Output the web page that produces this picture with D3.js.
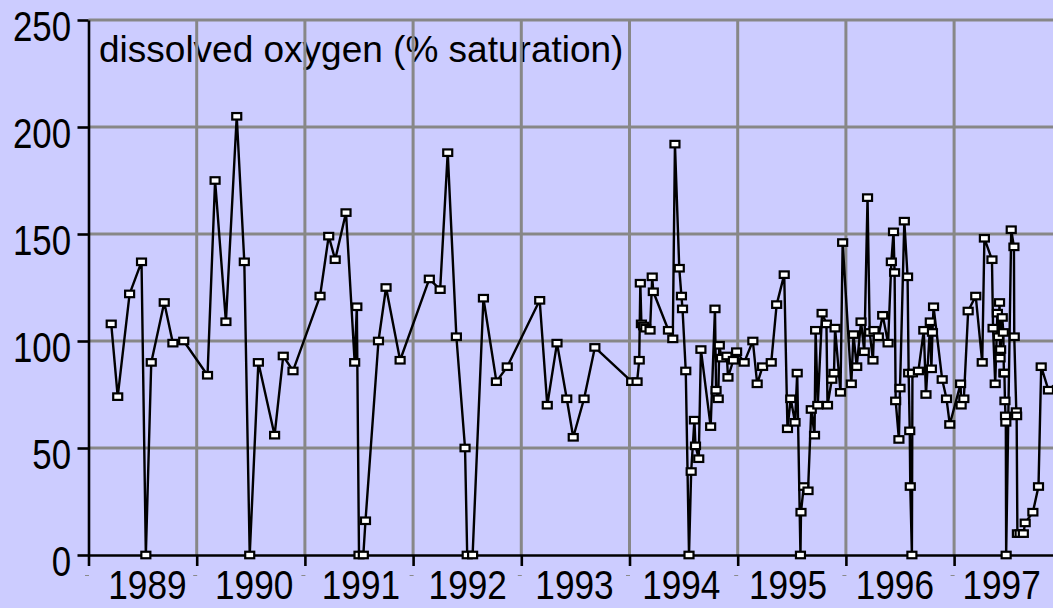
<!DOCTYPE html>
<html>
<head>
<meta charset="utf-8">
<script src="https://cdn.jsdelivr.net/npm/d3@7/dist/d3.min.js"></script>
<style>
	body { margin: 0; background: #ccccff; overflow: hidden; }
	svg { display: block; }
</style>
</head>
<body>
<div id="chart"></div>
<script>

// Sample times (decimal years) and dissolved oxygen readings
const sampleDates = [
	1989.21, 1989.27, 1989.38, 1989.49, 1989.53, 1989.58, 1989.70, 1989.78, 1989.88,
	1990.10, 1990.17, 1990.27, 1990.37, 1990.44, 1990.49, 1990.57, 1990.72, 1990.80, 1990.89,
	1991.14, 1991.22, 1991.28, 1991.38, 1991.46, 1991.48, 1991.50, 1991.54, 1991.56, 1991.68, 1991.75, 1991.88,
	1992.15, 1992.25, 1992.32, 1992.40, 1992.48, 1992.50, 1992.55, 1992.65, 1992.77, 1992.87,
	1993.17, 1993.24, 1993.33, 1993.42, 1993.48, 1993.58, 1993.68,
	1994.02, 1994.07, 1994.09, 1994.10, 1994.11, 1994.13, 1994.15, 1994.19, 1994.21, 1994.22,
	1994.36, 1994.40, 1994.42, 1994.46, 1994.48, 1994.49, 1994.52, 1994.55, 1994.57, 1994.60,
	1994.61, 1994.64, 1994.66, 1994.75, 1994.79, 1994.80, 1994.82, 1994.83, 1994.85, 1994.90,
	1994.91, 1994.96, 1994.99,
	1995.06, 1995.14, 1995.18, 1995.23, 1995.31, 1995.36, 1995.43, 1995.46, 1995.49, 1995.53,
	1995.55, 1995.58, 1995.585, 1995.61, 1995.65, 1995.68, 1995.71, 1995.72, 1995.74, 1995.78,
	1995.82, 1995.83, 1995.87, 1995.89, 1995.90, 1995.95, 1995.97,
	1996.05, 1996.07, 1996.10, 1996.14, 1996.17, 1996.20, 1996.22, 1996.25, 1996.26, 1996.30,
	1996.34, 1996.39, 1996.42, 1996.44, 1996.45, 1996.46, 1996.49, 1996.50, 1996.54, 1996.57,
	1996.58, 1996.59, 1996.595, 1996.61, 1996.615, 1996.67, 1996.72, 1996.74, 1996.78, 1996.79,
	1996.80, 1996.81, 1996.89, 1996.93, 1996.96,
	1997.06, 1997.065, 1997.09, 1997.13, 1997.20, 1997.26, 1997.28, 1997.35, 1997.36, 1997.38,
	1997.40, 1997.41, 1997.42, 1997.425, 1997.43, 1997.445, 1997.455, 1997.46, 1997.465, 1997.47,
	1997.475, 1997.478, 1997.481, 1997.528, 1997.553, 1997.556, 1997.575, 1997.578, 1997.585, 1997.61,
	1997.64, 1997.657, 1997.728, 1997.78, 1997.805, 1997.872, 1997.98
]

const oxygenValues = [
	108, 74, 122, 137, 0, 90, 118, 99, 100,
	84, 175, 109, 205, 137, 0, 90, 56, 93, 86,
	121, 149, 138, 160, 90, 116, 0, 0, 16, 100, 125, 91,
	129, 124, 188, 102, 50, 0, 0, 120, 81, 88,
	119, 70, 99, 73, 55, 73, 97,
	81, 81, 91, 127, 108, 107, 106, 105, 130, 123,
	105, 101, 192, 134, 121, 115, 86, 0, 39, 63,
	51, 45, 96, 60, 115, 77, 73, 98, 92, 93,
	83, 91, 95,
	90, 100, 80, 88, 90, 117, 131, 59, 73, 62,
	85, 0, 20, 32, 30, 68, 56, 105, 70, 113,
	108, 70, 82, 85, 106, 76, 146,
	80, 103, 88, 109, 95, 167, 104, 91, 105, 102,
	112, 99, 137, 151, 132, 72, 54, 78, 156, 130,
	85, 58, 32, 0, 85, 86, 105, 75, 109, 87,
	104, 116, 82, 73, 61,
	80, 70, 73, 114, 121, 90, 148, 138, 106, 80,
	113, 102, 118, 92, 96, 111, 104, 85, 85, 72,
	65, 62, 0, 152, 144, 102, 67, 65, 10, 10,
	10, 15, 20, 32, 88, 77, 82
]

const yTicks = [0, 50, 100, 150, 200, 250]
const gridYears = [1989, 1990, 1991, 1992, 1993, 1994, 1995, 1996, 1997, 1998]
const yearLabels = ["1989", "1990", "1991", "1992", "1993", "1994", "1995", "1996", "1997"]
const chartTitle = "dissolved oxygen (% saturation)"

// Main svg
const width = 1053, height = 608
const svg = d3.select("#chart")
	.append("svg")
		.attr("width", width)
		.attr("height", height)

svg.append("rect")
	.attr("width", width)
	.attr("height", height)
	.attr("fill", "#ccccff")

// Scales (year boundaries on a decimal-year axis)
const x = d3.scaleLinear()
	.domain([1989, 1998])
	.range([88.5, 1062.3])
const y = d3.scaleLinear()
	.domain([0, 250])
	.range([555, 20])
// Year labels sit on their own slightly tighter band
const labelX = d3.scaleBand()
	.domain(yearLabels)
	.range([94, 1055])

const fontFamily = "'Liberation Sans', Arial, sans-serif"

// Title
svg.append("text")
	.attr("x", 99)
	.attr("y", 62)
	.attr("font-family", fontFamily)
	.attr("font-size", 37)
	.attr("fill", "#000")
	.text(chartTitle)

// Gridlines
const grid = svg.append("g")
	.attr("stroke", "#878787")
	.attr("stroke-width", 3)
grid.selectAll("line.h")
	.data(yTicks.slice(1))
	.enter()
	.append("line")
	.attr("class", "h")
	.attr("x1", x(1989))
	.attr("x2", width)
	.attr("y1", d => y(d))
	.attr("y2", d => y(d))
grid.selectAll("line.v")
	.data(gridYears.slice(1))
	.enter()
	.append("line")
	.attr("class", "v")
	.attr("x1", d => x(d))
	.attr("x2", d => x(d))
	.attr("y1", y(250))
	.attr("y2", y(0))

// Axes (lines and ticks only, labels drawn below)
const yAxis = svg.append("g")
	.attr("transform", "translate(" + x(1989) + ",0)")
	.call(d3.axisLeft(y).tickValues(yTicks).tickSize(11).tickSizeOuter(0).tickFormat(""))
const xAxis = svg.append("g")
	.attr("transform", "translate(0," + y(0) + ")")
	.call(d3.axisBottom(x).tickValues(gridYears).tickSize(11).tickSizeOuter(0).tickFormat(""))
svg.selectAll(".domain, .tick line")
	.attr("stroke", "#000")
	.attr("stroke-width", 2.6)

// Y tick labels (narrow figures)
svg.append("g").selectAll("text")
	.data(yTicks)
	.enter()
	.append("text")
	.attr("transform", d => "translate(71," + (y(d) + 21) + ") scale(0.81,1)")
	.attr("text-anchor", "end")
	.attr("font-family", fontFamily)
	.attr("font-size", 43)
	.attr("fill", "#000")
	.text(d => d)

// X year labels (kept just inside the bottom edge)
svg.append("g").selectAll("text")
	.data(yearLabels)
	.enter()
	.append("text")
	.attr("transform", d => "translate(" + (labelX(d) + labelX.bandwidth() / 2) + ",599) scale(0.88,1)")
	.attr("text-anchor", "middle")
	.attr("font-family", fontFamily)
	.attr("font-size", 40)
	.attr("fill", "#000")
	.text(d => d)

// Little grey dashes between the year labels
svg.append("g").selectAll("line")
	.data(gridYears.slice(0, 9))
	.enter()
	.append("line")
	.attr("x1", d => x(d) - 3.5)
	.attr("x2", d => x(d) + 0.5)
	.attr("y1", 575.5)
	.attr("y2", 575.5)
	.attr("stroke", "#8a8a8a")
	.attr("stroke-width", 1)

// Series
const points = sampleDates.map((t, i) => ({t: t, v: oxygenValues[i]}))

svg.append("path")
	.datum(points)
	.attr("fill", "none")
	.attr("stroke", "#000")
	.attr("stroke-width", 2.4)
	.attr("stroke-linejoin", "round")
	.attr("d", d3.line()
		.x(d => x(d.t))
		.y(d => y(d.v)))

// Square markers
const mw = 9, mh = 6.5
svg.append("g").selectAll("rect")
	.data(points)
	.enter()
	.append("rect")
	.attr("x", d => x(d.t) - mw / 2)
	.attr("y", d => y(d.v) - mh / 2)
	.attr("width", mw)
	.attr("height", mh)
	.attr("fill", "#fff")
	.attr("stroke", "#000")
	.attr("stroke-width", 2.2)

</script>
</body>
</html>
